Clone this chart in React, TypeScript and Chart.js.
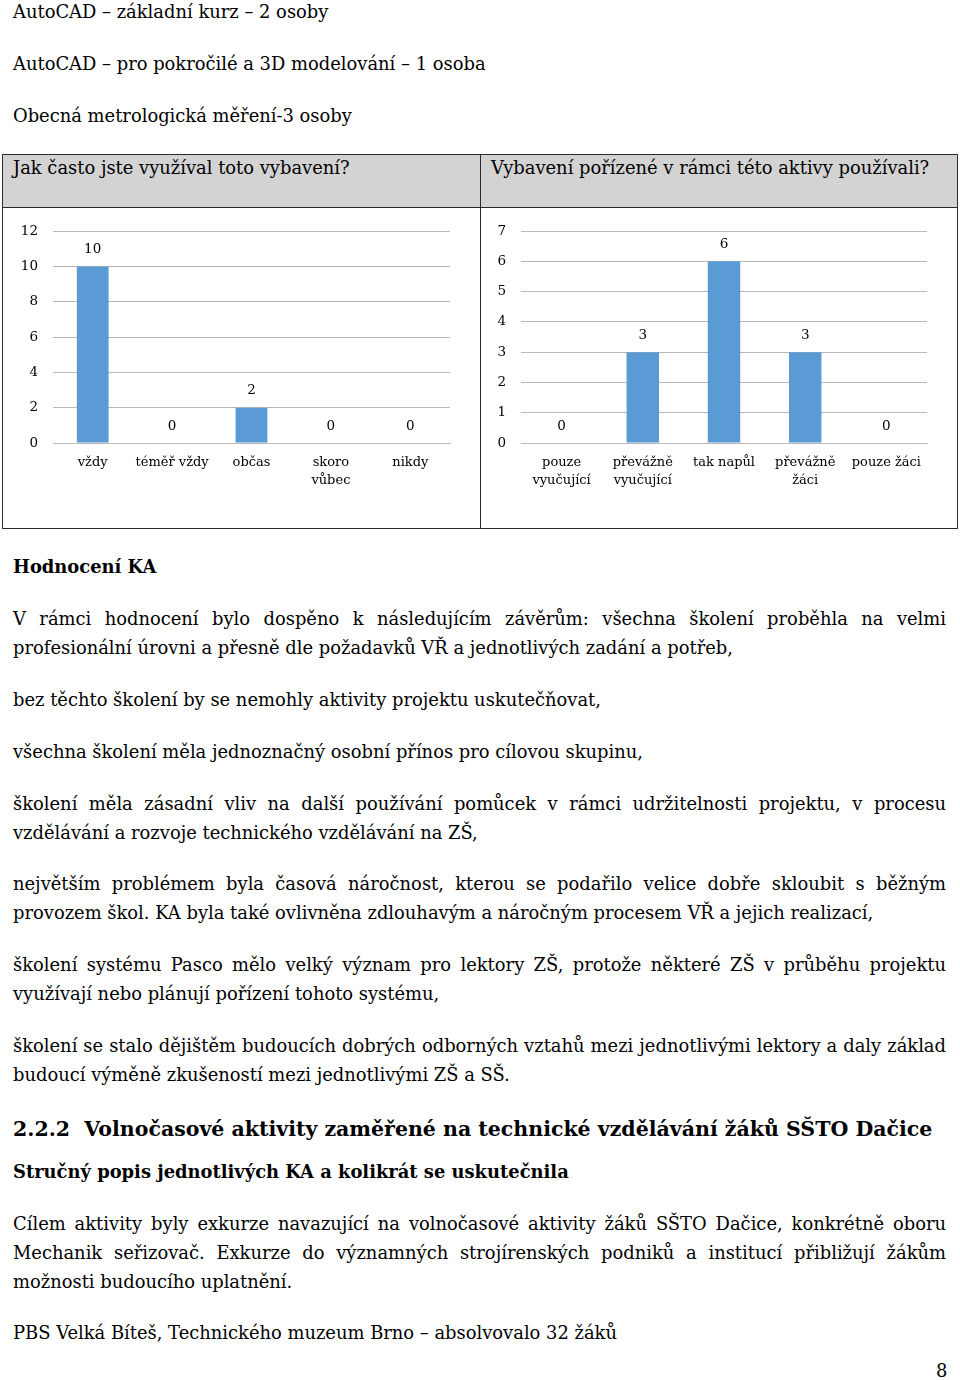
import React, { useEffect, useRef } from "react";
import { Chart, registerables } from "chart.js";

Chart.register(...registerables);

const FONT = '"DejaVu Serif", "Liberation Serif", serif';
const BODY_SIZE = 17.9;
const BOLD_SIZE = 17.9;
const CHART_SIZE = 13;

// Chart 1: Jak často jste využíval toto vybavení?
const freqCategories: (string | string[])[] = ["vždy", "téměř vždy", "občas", ["skoro", "vůbec"], "nikdy"];
const freqValues = [10, 0, 2, 0, 0];
const freqMax = 12;
const freqStep = 2;

// Chart 2: Vybavení pořízené v rámci této aktivy používali?
const usersCategories: (string | string[])[] = [
  ["pouze", "vyučující"],
  ["převážně", "vyučující"],
  "tak napůl",
  ["převážně", "žáci"],
  "pouze žáci",
];
const usersValues = [0, 3, 6, 3, 0];
const usersMax = 7;
const usersStep = 1;

const BAR_COLOR = "#5B9BD5";
const GRID_COLOR = "#B8B8B8";

const valueLabels = {
  id: "valueLabels",
  afterDatasetsDraw(chart: any) {
    const ctx = chart.ctx;
    const meta = chart.getDatasetMeta(0);
    const data = chart.data.datasets[0].data;
    ctx.save();
    ctx.font = `${CHART_SIZE + 0.5}px ${FONT}`;
    ctx.fillStyle = "#000";
    ctx.textAlign = "center";
    ctx.textBaseline = "middle";
    meta.data.forEach((bar: any, i: number) => {
      ctx.fillText(String(data[i]), bar.x, bar.y - 17);
    });
    ctx.restore();
  },
};

type BarProps = {
  labels: (string | string[])[];
  values: number[];
  max: number;
  step: number;
  yWidth: number;
  left: number;
  top: number;
  width: number;
  height: number;
  rightPad: number;
  topPad: number;
  xHeight: number;
};

function BarChart(p: BarProps) {
  const ref = useRef<HTMLCanvasElement>(null);
  useEffect(() => {
    if (!ref.current) return;
    const chart = new Chart(ref.current, {
      type: "bar",
      data: {
        labels: p.labels,
        datasets: [
          {
            data: p.values,
            backgroundColor: BAR_COLOR,
            borderWidth: 0,
            categoryPercentage: 1,
            barPercentage: 0.4,
          },
        ],
      },
      options: {
        responsive: false,
        maintainAspectRatio: false,
        animation: false,
        layout: { padding: { left: 0, right: p.rightPad, top: p.topPad, bottom: 0 } },
        plugins: { legend: { display: false }, tooltip: { enabled: false }, title: { display: false } },
        scales: {
          x: {
            grid: { display: false, drawTicks: false },
            border: { display: true, color: GRID_COLOR, width: 1 },
            ticks: {
              color: "#000",
              font: { family: FONT, size: CHART_SIZE, lineHeight: 18 / CHART_SIZE },
              padding: 11,
              maxRotation: 0,
              autoSkip: false,
            },
            afterFit: (s: any) => {
              s.height = p.xHeight;
            },
          },
          y: {
            min: 0,
            max: p.max,
            ticks: { stepSize: p.step, color: "#000", padding: 15, font: { family: FONT, size: CHART_SIZE + 0.5 } },
            grid: { color: GRID_COLOR, drawTicks: false, lineWidth: 1 },
            border: { display: false },
            afterFit: (s: any) => {
              s.width = p.yWidth;
            },
          },
        },
      },
      plugins: [valueLabels],
    });
    return () => chart.destroy();
  }, []);
  return (
    <canvas
      ref={ref}
      width={p.width}
      height={p.height}
      style={{ position: "absolute", left: p.left, top: p.top, width: p.width, height: p.height }}
    />
  );
}

type Line = { y: number; text: string; size?: number; bold?: boolean; justify?: boolean; x?: number };

const lines: Line[] = [
  { y: 11, text: "AutoCAD – základní kurz – 2 osoby" },
  { y: 63, text: "AutoCAD – pro pokročilé a 3D modelování – 1 osoba" },
  { y: 115, text: "Obecná metrologická měření-3 osoby" },
  { y: 566, text: "Hodnocení KA", bold: true, size: BOLD_SIZE },
  { y: 618, text: "V rámci hodnocení bylo dospěno k následujícím závěrům: všechna školení proběhla na velmi", justify: true },
  { y: 647, text: "profesionální úrovni a přesně dle požadavků VŘ a jednotlivých zadání a potřeb," },
  { y: 699, text: "bez těchto školení by se nemohly aktivity projektu uskutečňovat," },
  { y: 751, text: "všechna školení měla jednoznačný osobní přínos pro cílovou skupinu," },
  { y: 803, text: "školení měla zásadní vliv na další používání pomůcek v rámci udržitelnosti projektu, v procesu", justify: true },
  { y: 832, text: "vzdělávání a rozvoje technického vzdělávání na ZŠ," },
  { y: 883, text: "největším problémem byla časová náročnost, kterou se podařilo velice dobře skloubit s běžným", justify: true },
  { y: 912, text: "provozem škol. KA byla také ovlivněna zdlouhavým a náročným procesem VŘ a jejich realizací," },
  { y: 964, text: "školení systému Pasco mělo velký význam pro lektory ZŠ, protože některé ZŠ v průběhu projektu", justify: true },
  { y: 993, text: "využívají nebo plánují pořízení tohoto systému," },
  { y: 1045, text: "školení se stalo dějištěm budoucích dobrých odborných vztahů mezi jednotlivými lektory a daly základ", justify: true },
  { y: 1074, text: "budoucí výměně zkušeností mezi jednotlivými ZŠ a SŠ." },
  { y: 1128, text: "2.2.2\u00a0\u00a0Volnočasové aktivity zaměřené na technické vzdělávání žáků SŠTO Dačice", bold: true, size: 20.5 },
  { y: 1171, text: "Stručný popis jednotlivých KA a kolikrát se uskutečnila", bold: true, size: BOLD_SIZE },
  { y: 1223, text: "Cílem aktivity byly exkurze navazující na volnočasové aktivity žáků SŠTO Dačice, konkrétně oboru", justify: true },
  { y: 1252, text: "Mechanik seřizovač. Exkurze do významných strojírenských podniků a institucí přibližují žákům", justify: true },
  { y: 1281, text: "možnosti budoucího uplatnění." },
  { y: 1332, text: "PBS Velká Bíteš, Technického muzeum Brno – absolvovalo 32 žáků" },
];

function TextLine({ l }: { l: Line }) {
  const size = l.size ?? BODY_SIZE;
  const lh = 28;
  return (
    <div
      style={{
        position: "absolute",
        left: l.x ?? 13,
        top: l.y - lh / 2 + 1,
        width: 933,
        height: lh,
        lineHeight: `${lh}px`,
        fontFamily: FONT,
        fontSize: size,
        fontWeight: l.bold ? 700 : 400,
        color: "#000",
        whiteSpace: "nowrap",
        textAlign: l.justify ? "justify" : "left",
        textAlignLast: l.justify ? "justify" : "left",
      }}
    >
      {l.text}
    </div>
  );
}

export default function App() {
  const headStyle: React.CSSProperties = {
    position: "absolute",
    top: 154,
    lineHeight: "28px",
    fontSize: BODY_SIZE,
    fontFamily: FONT,
    whiteSpace: "nowrap",
  };
  return (
    <div
      style={{
        position: "absolute",
        left: 0,
        top: 0,
        width: 960,
        height: 1380,
        background: "#fff",
        overflow: "hidden",
        fontFamily: FONT,
      }}
    >
      {lines.map((l, i) => (
        <TextLine key={i} l={l} />
      ))}

      {/* table */}
      <div
        style={{
          position: "absolute",
          left: 2,
          top: 154,
          width: 956,
          height: 375,
          border: "1px solid #2b2b2b",
          boxSizing: "border-box",
        }}
      />
      <div
        style={{
          position: "absolute",
          left: 3,
          top: 155,
          width: 954,
          height: 52,
          background: "#D3D3D3",
          borderBottom: "1px solid #2b2b2b",
        }}
      />
      <div style={{ position: "absolute", left: 480, top: 154, width: 1, height: 375, background: "#2b2b2b" }} />
      <div style={{ ...headStyle, left: 13 }}>Jak často jste využíval toto vybavení?</div>
      <div style={{ ...headStyle, left: 491 }}>Vybavení pořízené v rámci této aktivy používali?</div>

      <BarChart
        labels={freqCategories}
        values={freqValues}
        max={freqMax}
        step={freqStep}
        yWidth={50}
        left={3}
        top={208}
        width={476}
        height={319}
        rightPad={29}
        topPad={21}
        xHeight={84}
      />
      <BarChart
        labels={usersCategories}
        values={usersValues}
        max={usersMax}
        step={usersStep}
        yWidth={39}
        left={482}
        top={208}
        width={475}
        height={319}
        rightPad={30}
        topPad={21}
        xHeight={84}
      />

      <div
        style={{
          position: "absolute",
          left: 936,
          top: 1357,
          lineHeight: "28px",
          fontSize: BODY_SIZE,
          fontFamily: FONT,
        }}
      >
        8
      </div>
    </div>
  );
}
